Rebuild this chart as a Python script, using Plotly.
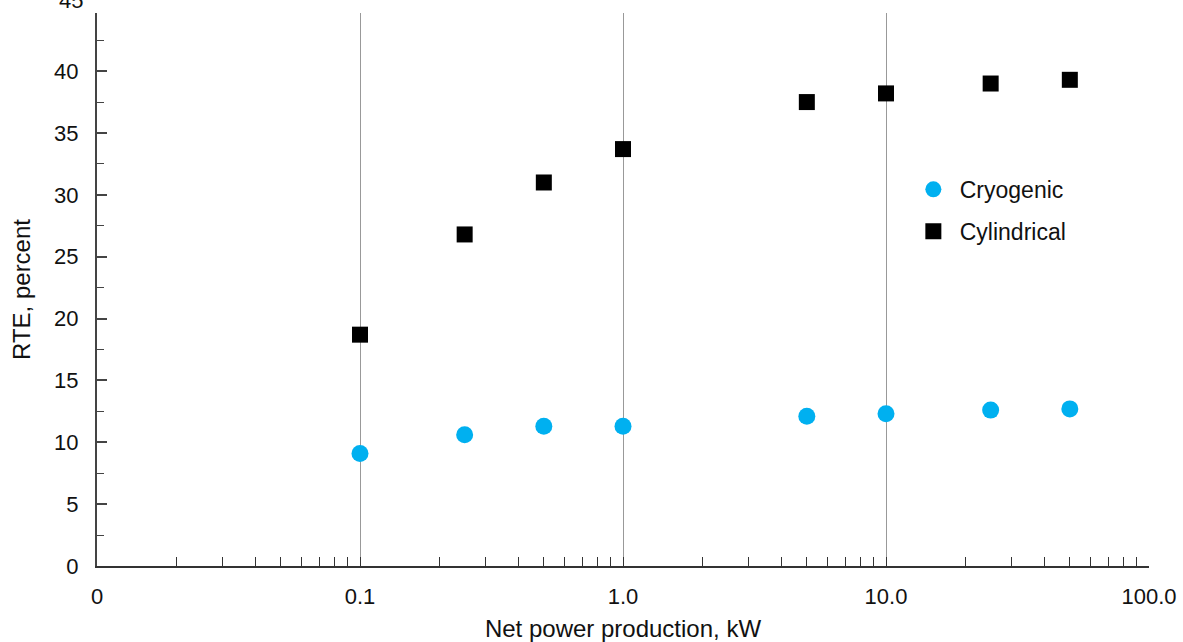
import plotly.graph_objects as go

power_kw = [0.1, 0.25, 0.5, 1.0, 5.0, 10.0, 25.0, 50.0]
cryogenic = [9.1, 10.6, 11.3, 11.3, 12.1, 12.3, 12.6, 12.7]
cylindrical = [18.7, 26.8, 31.0, 33.7, 37.5, 38.2, 39.0, 39.3]

x_major = [0.01, 0.1, 1.0, 10.0, 100.0]
x_major_text = ["0", "0.1", "1.0", "10.0", "100.0"]
x_grid = [0.1, 1.0, 10.0]
y_ticks = [0, 5, 10, 15, 20, 25, 30, 35, 40]

x_tickvals, x_ticktext = [], []
for dec, lab in zip(x_major, x_major_text):
    x_tickvals.append(dec)
    x_ticktext.append(lab)
    if dec < 100:
        for m in range(2, 10):
            x_tickvals.append(dec * m)
            x_ticktext.append("")

FONT = "Liberation Sans, Arial, sans-serif"

fig = go.Figure()
fig.add_trace(go.Scatter(
    x=power_kw, y=cryogenic, mode="markers", name=" Cryogenic",
    legendgroup="a",
    marker=dict(symbol="circle", size=17, color="#00B0F0"),
))
fig.add_trace(go.Scatter(
    x=power_kw, y=cylindrical, mode="markers", name=" Cylindrical",
    legendgroup="b",
    marker=dict(symbol="square", size=16, color="#000000"),
))
# invisible trace to carry the grid axis
fig.add_trace(go.Scatter(x=[0.1], y=[0], xaxis="x2", mode="markers",
                         marker=dict(opacity=0), showlegend=False, hoverinfo="skip"))

fig.update_layout(
    width=1183, height=642,
    margin=dict(l=97, r=34, t=13, b=76, autoexpand=False),
    paper_bgcolor="white", plot_bgcolor="white",
    font=dict(family=FONT, size=22, color="#111111"),
    showlegend=True,
    legend=dict(x=0.776, y=0.72, xanchor="left", yanchor="top",
                bgcolor="rgba(0,0,0,0)", tracegroupgap=9,
                font=dict(size=23)),
    xaxis=dict(
        type="log", range=[-2, 2], automargin=False,
        tickvals=x_tickvals, ticktext=x_ticktext,
        ticks="inside", ticklen=9, tickwidth=1.2, tickcolor="#333333",
        showline=True, linecolor="#333333", linewidth=1.5,
        showgrid=False, zeroline=False,
        title=dict(text="Net power production, kW", standoff=20,
                   font=dict(size=24)),
        ticklabelstandoff=10,
        tickfont=dict(size=22),
    ),
    xaxis2=dict(
        type="log", range=[-2, 2], overlaying="x", matches="x",
        tickvals=x_grid, showticklabels=False, ticks="",
        showgrid=True, gridcolor="#999999", gridwidth=1.2,
        showline=False, zeroline=False,
    ),
    yaxis=dict(
        range=[0, 44.7], automargin=False,
        tickvals=y_ticks,
        ticks="inside", ticklen=10, tickwidth=1.5, tickcolor="#444444",
        minor=dict(dtick=2.5, tick0=0, ticks="inside", ticklen=7,
                   tickwidth=1.2, tickcolor="#444444", showgrid=False),
        showline=True, linecolor="#444444", linewidth=2,
        showgrid=False, zeroline=False,
        title=dict(text="RTE, percent", standoff=17, font=dict(size=24)),
        ticklabelstandoff=12,
        tickfont=dict(size=22),
    ),
)

fig.add_annotation(text="45", x=0, xref="paper", y=1, yref="paper",
                   xanchor="right", yanchor="middle", xshift=-12, yshift=13,
                   showarrow=False, font=dict(size=22, family=FONT))

fig.write_html("out.html")
